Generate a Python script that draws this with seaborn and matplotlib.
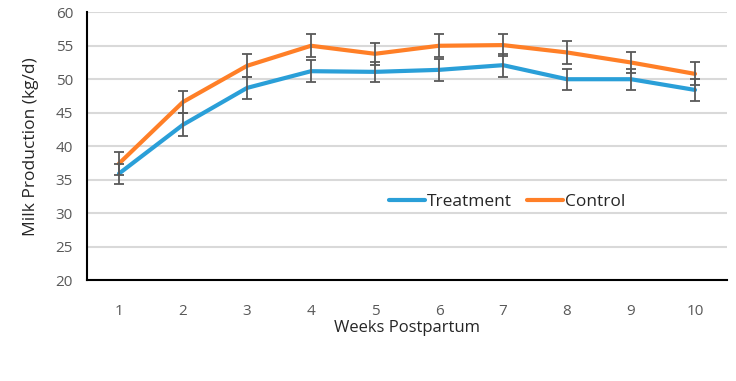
import matplotlib
matplotlib.use("Agg")
import matplotlib.pyplot as plt
import seaborn as sns
import pandas as pd
import numpy as np

weeks = [1, 2, 3, 4, 5, 6, 7, 8, 9, 10]
treatment = [35.9, 43.2, 48.7, 51.2, 51.1, 51.4, 52.1, 50.0, 50.0, 48.4]
treatment_err = [1.5, 1.7, 1.7, 1.6, 1.5, 1.6, 1.7, 1.6, 1.6, 1.6]
control = [37.4, 46.6, 52.0, 55.0, 53.8, 55.0, 55.1, 54.0, 52.5, 50.8]
control_err = [1.7, 1.7, 1.7, 1.7, 1.6, 1.7, 1.7, 1.7, 1.6, 1.7]
series_names = ["Treatment", "Control"]
colors = ["#2A9FD8", "#FF7F27"]
yticks = [20, 25, 30, 35, 40, 45, 50, 55, 60]

df = pd.DataFrame({
    "Week": weeks * 2,
    "Milk": treatment + control,
    "Group": [series_names[0]] * len(weeks) + [series_names[1]] * len(weeks),
})

sns.set_style("white")
plt.rcParams["font.family"] = ["Open Sans", "DejaVu Sans"]

fig = plt.figure(figsize=(7.36, 3.81), dpi=100)
ax = fig.add_axes([87 / 736, 1 - 280 / 381, (727 - 87) / 736, (280 - 12.3) / 381])

sns.lineplot(data=df, x="Week", y="Milk", hue="Group", palette=colors,
             linewidth=3, ax=ax, zorder=3, legend=True)

for vals, errs in [(treatment, treatment_err), (control, control_err)]:
    ax.errorbar(weeks, vals, yerr=errs, fmt="none", ecolor="#595959",
                elinewidth=1.3, capsize=3.5, capthick=1.3, zorder=4)

ax.set_xlim(0.5, 10.5)
ax.set_ylim(20, 60)
ax.set_yticks(yticks)
ax.set_xticks(weeks)
ax.set_xticks([10.5], minor=True)
ax.yaxis.grid(True, color="#D9D9D9", linewidth=1.5, zorder=0)
ax.set_axisbelow(True)

for s in ["top", "right"]:
    ax.spines[s].set_visible(False)
for s in ["left", "bottom"]:
    ax.spines[s].set_color("black")
    ax.spines[s].set_linewidth(1.5)

ax.tick_params(axis="both", which="both", direction="out", length=5, width=1.3,
               color="black", labelsize=11, labelcolor="#595959")
ax.tick_params(axis="x", pad=12)
ax.tick_params(axis="y", pad=5)

ax.set_xlabel("Weeks Postpartum", fontsize=12, color="#262626", labelpad=1)
ax.set_ylabel("Milk Production (kg/d)", fontsize=12.5, color="#262626", labelpad=12)

leg = ax.legend(loc="center", bbox_to_anchor=(0.656, 0.291), ncol=2, frameon=False,
                fontsize=12.5, handlelength=2.1, handletextpad=0.1, columnspacing=0.85)
for t in leg.get_texts():
    t.set_color("#262626")

fig.savefig("out.png", dpi=100)
